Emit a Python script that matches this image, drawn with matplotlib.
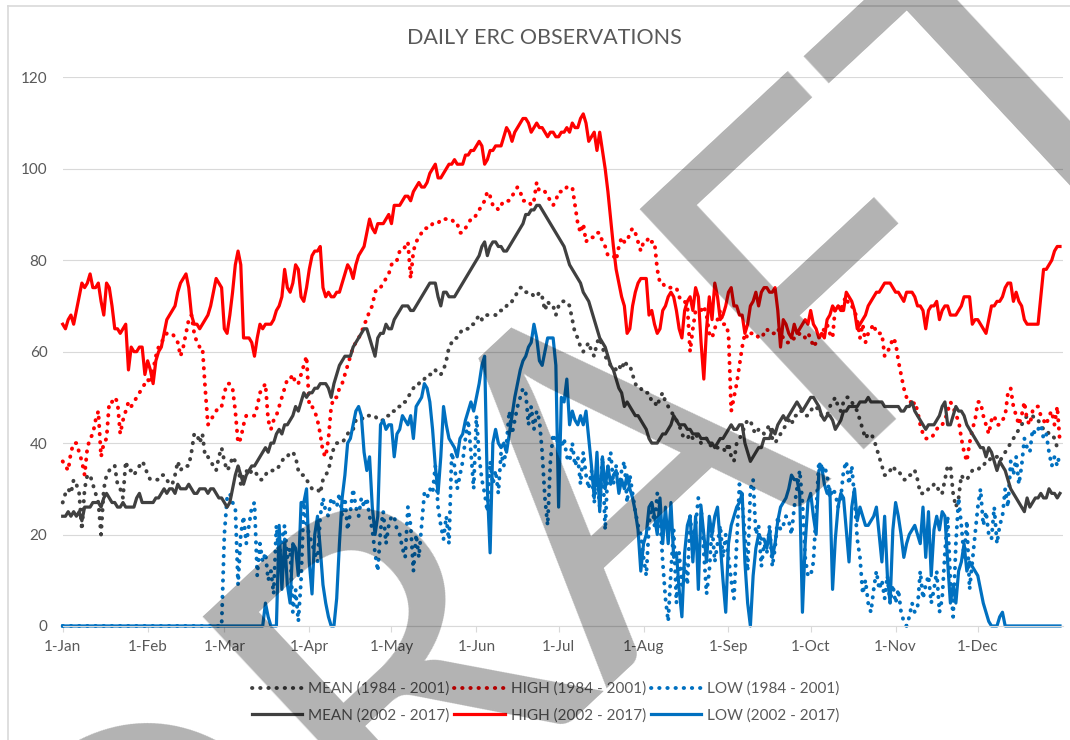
import numpy as np
import matplotlib
matplotlib.use("Agg")
import matplotlib.pyplot as plt
from matplotlib.lines import Line2D

plt.rcParams['font.family'] = ['Lato', 'DejaVu Sans']

# daily ERC values, one line per month (Jan..Dec, 365 days)
mean_1984 = (
    [27, 29, 30, 29, 32, 31, 29, 21, 30, 33, 33, 31, 29, 27, 20, 30, 33, 34, 35, 35, 31, 30, 28, 36, 34, 34, 33, 34, 35, 36, 35]
    + [33, 32, 32, 32, 32, 33, 33, 32, 31, 31, 33, 36, 34, 35, 35, 35, 38, 42, 42, 40, 42, 37, 37, 36, 35, 34, 37, 39]
    + [36, 34, 35, 37, 36, 35, 31, 33, 34, 33, 34, 34, 33, 32, 32, 33, 34, 34, 34, 34, 35, 36, 37, 37, 38, 38, 37, 34, 33, 33, 32]
    + [31, 30, 30, 30, 29, 32, 33, 34, 37, 39, 40, 40, 40, 41, 42, 43, 43, 45, 45, 45, 46, 46, 46, 46, 46, 45, 45, 45, 46, 46]
    + [47, 47, 48, 48, 49, 49, 50, 51, 52, 53, 53, 54, 54, 55, 55, 55, 56, 55, 55, 56, 58, 61, 62, 63, 63, 64, 65, 65, 65, 66, 66]
    + [67, 68, 67, 68, 68, 68, 68, 68, 69, 69, 69, 70, 71, 71, 72, 73, 74, 74, 73, 73, 73, 72, 72, 73, 72, 69, 71, 70, 70, 68]
    + [70, 71, 71, 71, 70, 67, 64, 63, 61, 60, 61, 62, 60, 59, 62, 63, 61, 59, 58, 57, 57, 56, 57, 56, 58, 57, 57, 55, 53, 52, 52]
    + [51, 51, 51, 49, 49, 48, 50, 51, 49, 48, 47, 46, 45, 44, 42, 41, 41, 42, 41, 42, 41, 40, 41, 41, 40, 39, 39, 39, 39, 39, 38]
    + [40, 37, 36, 40, 41, 42, 44, 45, 45, 43, 42, 43, 43, 42, 43, 44, 41, 40, 41, 42, 43, 44, 45, 44, 46, 46, 47, 47, 46, 46]
    + [47, 48, 48, 47, 46, 46, 46, 48, 49, 50, 48, 47, 49, 50, 50, 49, 48, 47, 45, 43, 41, 42, 42, 41, 39, 37, 35, 33, 33, 34, 35]
    + [34, 34, 33, 32, 32, 33, 33, 34, 32, 29, 29, 29, 30, 30, 31, 31, 29, 29, 32, 35, 35, 29, 26, 28, 33, 32, 32, 33, 34, 34]
    + [34, 35, 35, 36, 36, 37, 37, 37, 36, 37, 38, 39, 40, 41, 42, 43, 44, 45, 46, 46, 46, 45, 45, 44, 43, 43, 42, 42, 41, 39, 40]
)

high_1984 = (
    [36, 35, 34, 38, 40, 40, 38, 36, 33, 39, 41, 42, 45, 47, 37, 40, 41, 49, 49, 50, 49, 42, 45, 47, 49, 48, 49, 50, 51, 52, 53]
    + [54, 53, 56, 59, 61, 62, 63, 64, 64, 64, 63, 62, 59, 61, 64, 67, 68, 64, 62, 61, 61, 52, 44, 45, 46, 47, 48, 48]
    + [51, 53, 53, 52, 47, 40, 41, 44, 46, 46, 46, 46, 48, 51, 52, 53, 45, 43, 45, 46, 48, 50, 52, 54, 54, 55, 53, 53, 55, 57, 59]
    + [48, 48, 47, 45, 42, 38, 37, 41, 48, 50, 50, 52, 53, 55, 57, 59, 61, 62, 63, 64, 66, 67, 69, 70, 73, 74, 74, 75, 76, 77]
    + [79, 80, 80, 82, 82, 83, 84, 76, 82, 84, 85, 86, 87, 87, 87, 88, 88, 88, 89, 89, 89, 89, 89, 88, 88, 86, 86, 87, 88, 89, 89]
    + [90, 91, 92, 93, 95, 94, 92, 92, 91, 92, 93, 93, 93, 94, 95, 96, 95, 93, 93, 93, 92, 93, 97, 95, 95, 95, 94, 93, 92, 93]
    + [95, 95, 95, 96, 96, 96, 92, 88, 86, 88, 84, 85, 85, 85, 86, 86, 84, 83, 81, 81, 81, 80, 83, 85, 84, 84, 86, 87, 86, 84, 82]
    + [84, 84, 85, 84, 84, 78, 75, 75, 74, 74, 74, 74, 74, 72, 71, 71, 70, 60, 65, 69, 69, 69, 70, 68, 64, 63, 65, 67, 69, 66, 66]
    + [64, 47, 50, 53, 57, 61, 64, 63, 64, 64, 64, 63, 63, 64, 65, 64, 64, 64, 65, 64, 63, 62, 62, 62, 63, 63, 64, 64, 63, 64]
    + [63, 61, 62, 63, 64, 65, 66, 64, 63, 70, 70, 69, 71, 72, 70, 70, 69, 67, 63, 66, 62, 64, 65, 66, 64, 64, 64, 59, 60, 61, 63]
    + [62, 58, 55, 52, 50, 50, 48, 49, 47, 44, 42, 41, 41, 41, 42, 43, 44, 44, 45, 47, 49, 48, 46, 45, 41, 38, 36, 40, 43, 45]
    + [49, 49, 46, 44, 42, 45, 46, 44, 44, 45, 46, 51, 52, 48, 46, 44, 46, 49, 45, 44, 47, 48, 48, 46, 45, 44, 46, 47, 44, 48, 40]
)

low_1984 = (
    [0] * 31
    + [0] * 28
    + [20, 28, 29, 27, 26, 9, 20, 24, 18, 22, 26, 27, 11, 18, 14, 16, 10, 12, 7, 22, 15, 19, 22, 15, 17, 3, 8, 1, 10, 27, 22]
    + [20, 18, 16, 14, 24, 28, 25, 24, 28, 27, 26, 29, 24, 28, 21, 25, 30, 26, 24, 28, 26, 28, 24, 21, 16, 12, 21, 25, 18, 22]
    + [24, 24, 21, 20, 17, 15, 26, 22, 12, 20, 15, 22, 29, 28, 30, 29, 35, 26, 22, 19, 24, 18, 38, 35, 30, 33, 36, 41, 45, 38, 30]
    + [46, 37, 32, 29, 25, 36, 31, 34, 29, 38, 35, 40, 47, 42, 45, 48, 50, 52, 51, 44, 48, 43, 47, 45, 38, 28, 22, 36, 42, 40]
    + [41, 39, 41, 37, 36, 40, 35, 37, 31, 38, 33, 30, 34, 27, 33, 26, 37, 21, 35, 38, 31, 35, 30, 34, 36, 27, 33, 29, 25, 22, 20]
    + [15, 11, 22, 27, 22, 29, 24, 14, 6, 1, 12, 21, 5, 16, 9, 14, 9, 24, 18, 22, 28, 26, 16, 7, 12, 22, 14, 18, 22, 15, 20]
    + [15, 10, 6, 18, 31, 27, 20, 12, 30, 32, 20, 22, 13, 18, 16, 22, 13, 17, 24, 21, 22, 24, 23, 20, 26, 30, 34, 27, 15, 11]
    + [11, 14, 25, 36, 34, 35, 33, 28, 30, 29, 26, 28, 34, 36, 31, 35, 28, 19, 15, 7, 10, 5, 3, 8, 12, 8, 10, 6, 11, 5, 9]
    + [5, 8, 3, 1, 0, 2, 5, 3, 4, 12, 6, 9, 11, 5, 8, 12, 3, 6, 16, 24, 10, 2, 18, 28, 22, 15, 23, 8, 14, 20]
    + [26, 30, 22, 25, 20, 19, 26, 18, 22, 24, 30, 26, 36, 33, 37, 31, 35, 41, 39, 38, 43, 42, 43, 44, 41, 42, 38, 35, 37, 35, 38]
)

mean_2002 = (
    [24, 24, 25, 24, 25, 24, 25, 23, 26, 26, 26, 27, 27, 27, 26, 28, 29, 28, 27, 27, 26, 26, 27, 26, 26, 26, 26, 28, 29, 27, 27]
    + [27, 27, 27, 28, 28, 29, 30, 29, 30, 30, 29, 31, 30, 30, 30, 31, 30, 29, 29, 30, 30, 30, 29, 30, 30, 29, 28, 28]
    + [27, 26, 27, 30, 33, 35, 33, 31, 33, 34, 35, 35, 36, 37, 38, 39, 38, 40, 40, 42, 43, 42, 44, 44, 45, 46, 48, 47, 49, 51, 50]
    + [51, 51, 52, 52, 53, 53, 53, 52, 50, 53, 55, 57, 58, 59, 59, 59, 61, 62, 63, 64, 65, 65, 63, 61, 59, 63, 64, 64, 66, 65]
    + [65, 67, 68, 69, 70, 70, 70, 69, 69, 70, 71, 72, 73, 74, 75, 75, 75, 72, 70, 73, 73, 72, 72, 72, 73, 74, 75, 76, 77, 78, 79]
    + [80, 81, 83, 84, 81, 83, 84, 84, 83, 83, 82, 82, 83, 84, 85, 86, 87, 88, 90, 90, 91, 91, 92, 92, 91, 90, 89, 88, 87, 86]
    + [85, 84, 83, 81, 79, 78, 77, 76, 75, 73, 72, 71, 69, 67, 65, 63, 62, 61, 59, 57, 56, 54, 52, 51, 48, 49, 48, 47, 46, 46, 45]
    + [44, 43, 41, 40, 40, 40, 41, 42, 42, 43, 44, 46, 45, 44, 44, 44, 43, 43, 42, 42, 42, 41, 41, 41, 40, 40, 39, 40, 41, 41, 42]
    + [43, 44, 43, 43, 44, 44, 40, 38, 36, 37, 38, 39, 39, 41, 41, 41, 43, 42, 44, 45, 46, 45, 46, 47, 48, 49, 48, 47, 48, 49]
    + [50, 50, 49, 48, 46, 45, 46, 46, 45, 43, 44, 45, 47, 47, 48, 48, 48, 48, 49, 49, 49, 50, 49, 49, 49, 49, 49, 48, 48, 48, 48]
    + [48, 48, 47, 47, 48, 48, 49, 47, 46, 45, 44, 43, 44, 44, 44, 45, 46, 48, 49, 44, 44, 46, 48, 47, 47, 46, 44, 43, 42, 41]
    + [40, 39, 39, 37, 39, 38, 36, 34, 36, 35, 34, 32, 30, 29, 28, 27, 26, 25, 28, 26, 27, 28, 28, 29, 28, 28, 30, 29, 29, 28, 29]
)

high_2002 = (
    [66, 65, 67, 68, 66, 69, 72, 75, 74, 75, 77, 74, 74, 75, 71, 68, 75, 74, 70, 65, 65, 64, 65, 66, 56, 61, 60, 60, 61, 61, 55]
    + [58, 56, 53, 58, 60, 61, 64, 67, 68, 69, 70, 73, 75, 76, 77, 74, 68, 66, 66, 65, 66, 67, 68, 70, 73, 76, 75, 74]
    + [65, 64, 68, 73, 79, 82, 79, 63, 63, 63, 62, 59, 63, 66, 65, 66, 66, 66, 67, 69, 70, 72, 78, 74, 73, 75, 79, 78, 72, 71, 74]
    + [78, 81, 82, 82, 83, 74, 72, 73, 72, 72, 73, 73, 75, 77, 79, 78, 76, 79, 81, 82, 83, 86, 89, 87, 86, 88, 88, 88, 89, 90]
    + [88, 92, 92, 92, 93, 94, 94, 93, 95, 96, 97, 96, 96, 97, 99, 100, 101, 98, 98, 99, 100, 101, 101, 102, 101, 101, 101, 103, 103, 104, 104]
    + [105, 106, 105, 101, 102, 104, 104, 105, 105, 105, 107, 109, 108, 106, 108, 109, 110, 111, 111, 110, 108, 109, 110, 109, 109, 108, 107, 108, 108, 107]
    + [107, 108, 108, 109, 108, 110, 109, 109, 111, 112, 110, 106, 107, 108, 104, 108, 104, 100, 95, 89, 83, 78, 75, 72, 70, 64, 65, 70, 73, 75, 76]
    + [76, 76, 68, 69, 66, 64, 65, 69, 70, 72, 73, 72, 69, 65, 63, 69, 71, 72, 69, 74, 72, 62, 54, 65, 72, 67, 75, 72, 67, 68, 70]
    + [73, 74, 70, 70, 68, 68, 64, 66, 70, 71, 73, 70, 73, 74, 74, 73, 73, 74, 69, 61, 67, 66, 64, 63, 66, 64, 65, 66, 67, 66]
    + [69, 66, 65, 63, 64, 63, 67, 68, 70, 69, 70, 69, 69, 73, 72, 71, 69, 65, 66, 67, 68, 70, 71, 72, 73, 73, 74, 75, 75, 75, 74]
    + [73, 73, 72, 71, 73, 73, 73, 72, 70, 70, 69, 65, 69, 70, 70, 71, 67, 69, 70, 70, 68, 68, 68, 69, 70, 72, 72, 72, 66, 67]
    + [67, 66, 65, 64, 67, 70, 70, 71, 71, 72, 74, 75, 75, 71, 73, 71, 70, 67, 66, 66, 66, 66, 66, 72, 78, 78, 79, 80, 82, 83, 83]
)

low_2002 = (
    [0] * 31
    + [0] * 28
    + [0] * 15 + [5, 2, 0, 0, 0, 22, 8, 19, 9, 5, 18, 17, 11, 27, 27, 30]
    + [14, 7, 20, 24, 17, 9, 5, 2, 0, 0, 6, 18, 28, 33, 40, 41, 44, 47, 48, 46, 38, 34, 37, 26, 20, 24, 44, 45, 43, 44]
    + [44, 37, 42, 43, 46, 45, 44, 46, 41, 48, 49, 50, 53, 52, 49, 43, 35, 29, 37, 48, 44, 41, 40, 39, 37, 41, 42, 45, 47, 49, 47]
    + [50, 53, 57, 59, 30, 16, 40, 43, 40, 39, 40, 38, 42, 46, 50, 53, 56, 58, 59, 61, 62, 66, 63, 58, 57, 60, 63, 63, 63, 57]
    + [26, 50, 49, 54, 44, 47, 45, 44, 46, 44, 47, 41, 35, 28, 38, 25, 37, 30, 35, 31, 33, 34, 29, 32, 30, 33, 30, 28, 25, 21, 12]
    + [18, 20, 26, 27, 24, 20, 28, 18, 26, 18, 27, 15, 16, 8, 2, 16, 22, 24, 14, 24, 8, 26, 20, 14, 24, 20, 24, 26, 18, 10, 3]
    + [18, 22, 24, 26, 27, 29, 14, 5, 0, 11, 17, 20, 19, 19, 17, 21, 15, 18, 23, 26, 27, 28, 30, 33, 32, 32, 29, 3, 18, 27]
    + [29, 24, 20, 34, 35, 31, 29, 30, 8, 19, 26, 29, 28, 21, 14, 26, 30, 23, 26, 24, 22, 22, 23, 24, 26, 20, 14, 24, 11, 5, 21]
    + [27, 24, 20, 15, 18, 20, 21, 22, 20, 18, 26, 15, 25, 11, 21, 24, 21, 25, 24, 14, 5, 9, 5, 12, 14, 18, 12, 14, 13, 12]
    + [11, 8, 5, 3, 1, 0, 0, 0, 2, 3, 0] + [0] * 20
)

series_names = ["MEAN (1984 - 2001)", "HIGH (1984 - 2001)", "LOW (1984 - 2001)",
                "MEAN (2002 - 2017)", "HIGH (2002 - 2017)", "LOW (2002 - 2017)"]
month_labels = ["1-Jan", "1-Feb", "1-Mar", "1-Apr", "1-May", "1-Jun",
                "1-Jul", "1-Aug", "1-Sep", "1-Oct", "1-Nov", "1-Dec"]
month_lengths = [31, 28, 31, 30, 31, 30, 31, 31, 30, 31, 30, 31]

all_series = [mean_1984, high_1984, low_1984, mean_2002, high_2002, low_2002]
for s in all_series:
    assert len(s) == 365, len(s)

days = np.arange(365)
month_starts = np.concatenate([[0], np.cumsum(month_lengths)[:-1]])

text_grey = "#595959"
line_grey = "#d9d9d9"
colors = ["#404040", "#ff0000", "#0070c0"] * 2
dotted = (0, (0.1, 2.0))

fig = plt.figure(figsize=(10.7, 7.4), dpi=100)
ax = fig.add_axes([0.0586, 0.1541, 0.9346, 0.7414])

handles = []
for i, (vals, name) in enumerate(zip(all_series, series_names)):
    if i < 3:
        ln, = ax.plot(days, vals, color=colors[i], lw=2.8, linestyle=dotted,
                      dash_capstyle="round", label=name, clip_on=False)
    else:
        ln, = ax.plot(days, vals, color=colors[i], lw=2.3, solid_joinstyle="round",
                      label=name, clip_on=False)
    handles.append(ln)

ax.set_xlim(0, 365)
ax.set_ylim(0, 120)
ax.set_yticks(range(0, 121, 20))
ax.set_xticks(month_starts)
ax.set_xticklabels(month_labels)
ax.grid(axis="y", color=line_grey, lw=0.8)
ax.set_axisbelow(True)
for side in ["top", "right", "left"]:
    ax.spines[side].set_visible(False)
ax.spines["bottom"].set_color(line_grey)
ax.spines["bottom"].set_linewidth(0.8)
ax.tick_params(axis="y", length=0, pad=11, labelsize=11, labelcolor=text_grey)
ax.tick_params(axis="x", length=4, width=0.8, color=line_grey, pad=6,
               labelsize=11, labelcolor=text_grey)

fig.text(0.509, 0.949, "DAILY ERC OBSERVATIONS", ha="center", va="center",
         fontsize=15.5, color=text_grey)

# legend: dotted series on the first row, solid ones on the second
order = [0, 3, 1, 4, 2, 5]
fig.legend([handles[k] for k in order], [series_names[k] for k in order],
           loc="center", bbox_to_anchor=(0.51, 0.051), ncol=3, frameon=False,
           fontsize=11, labelcolor=text_grey, handlelength=3.3,
           handletextpad=0.4, columnspacing=0.3, labelspacing=0.8)

# chart frame
fig.add_artist(Line2D([7.5 / 1070, 7.5 / 1070], [0, 1 - 6 / 740],
                      transform=fig.transFigure, color=line_grey, lw=1.2))
fig.add_artist(Line2D([7.5 / 1070, 1], [1 - 6 / 740, 1 - 6 / 740],
                      transform=fig.transFigure, color=line_grey, lw=1.2))

# watermark
fig.text(0.626, 0.203, "DRAFT", rotation=43, rotation_mode="anchor",
         ha="center", va="baseline", fontsize=330, color="black", alpha=0.3,
         zorder=100)

fig.savefig("out.png", dpi=100)
